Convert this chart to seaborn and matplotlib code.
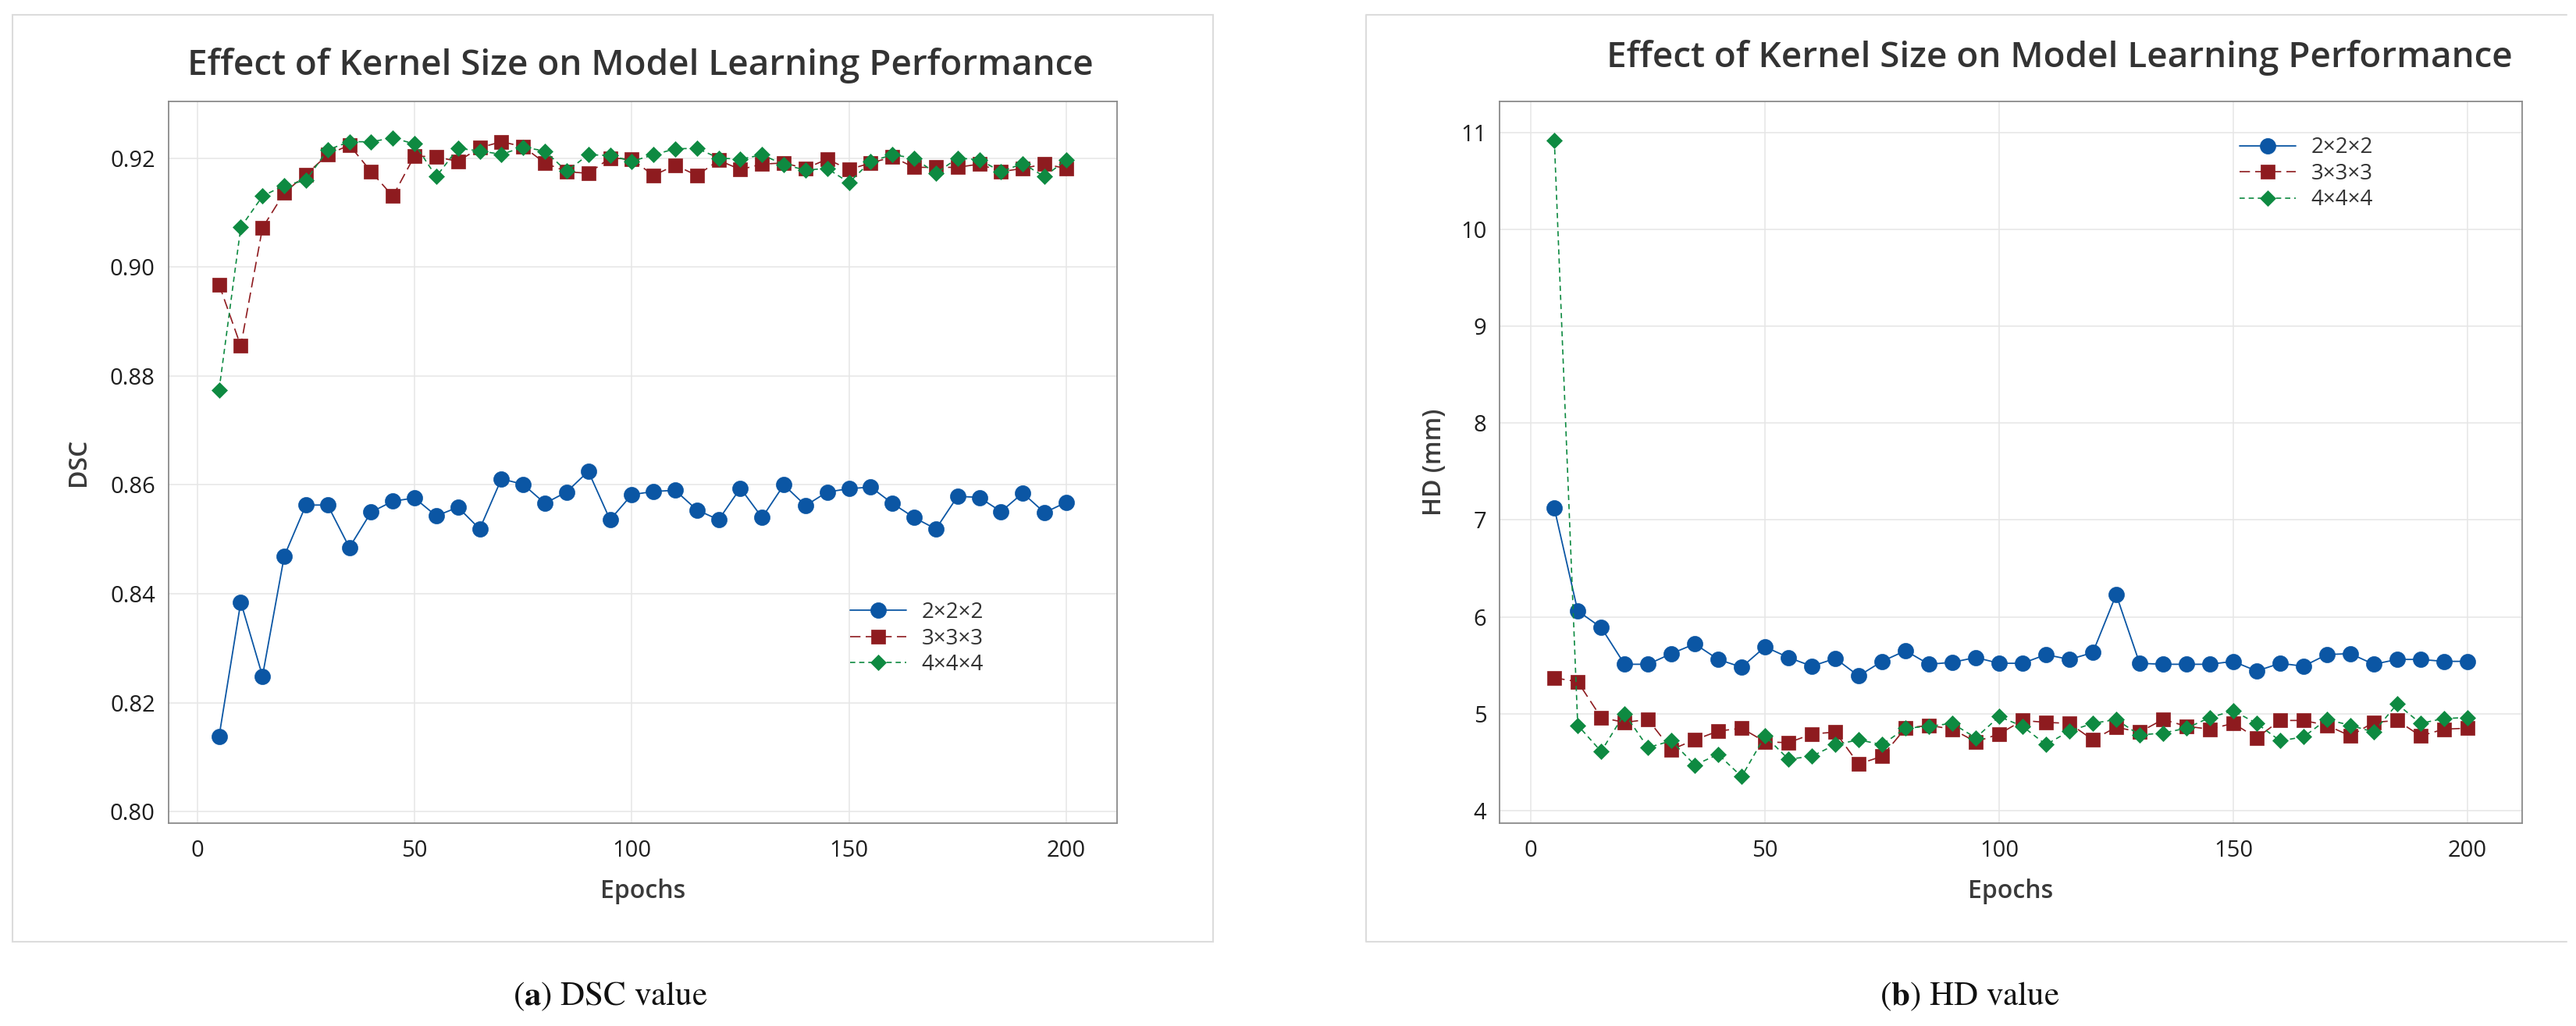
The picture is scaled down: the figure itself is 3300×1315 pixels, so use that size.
import matplotlib
matplotlib.use('Agg')
import matplotlib.pyplot as plt
import seaborn as sns
from matplotlib.patches import Rectangle
from matplotlib.lines import Line2D

# === DATA ===
epochs = [5, 10, 15, 20, 25, 30, 35, 40, 45, 50,
          55, 60, 65, 70, 75, 80, 85, 90, 95, 100,
          105, 110, 115, 120, 125, 130, 135, 140, 145, 150,
          155, 160, 165, 170, 175, 180, 185, 190, 195, 200]

kernel_labels = ['2×2×2', '3×3×3', '4×4×4']

dsc_k2 = [0.8138, 0.8385, 0.8249, 0.8469, 0.8563, 0.8563, 0.8485, 0.8550, 0.8570, 0.8576,
          0.8543, 0.8559, 0.8519, 0.8611, 0.8601, 0.8566, 0.8587, 0.8625, 0.8536, 0.8582,
          0.8588, 0.8590, 0.8554, 0.8536, 0.8594, 0.8540, 0.8600, 0.8562, 0.8587, 0.8593,
          0.8596, 0.8566, 0.8540, 0.8519, 0.8579, 0.8577, 0.8551, 0.8585, 0.8549, 0.8568]
dsc_k3 = [0.8968, 0.8855, 0.9072, 0.9136, 0.9170, 0.9206, 0.9224, 0.9175, 0.9130, 0.9204,
          0.9202, 0.9194, 0.9219, 0.9230, 0.9221, 0.9191, 0.9175, 0.9172, 0.9200, 0.9198,
          0.9168, 0.9187, 0.9168, 0.9196, 0.9179, 0.9189, 0.9191, 0.9181, 0.9198, 0.9179,
          0.9191, 0.9202, 0.9183, 0.9183, 0.9183, 0.9189, 0.9175, 0.9181, 0.9189, 0.9181]
dsc_k4 = [0.8774, 0.9073, 0.9130, 0.9150, 0.9159, 0.9215, 0.9230, 0.9230, 0.9237, 0.9226,
          0.9166, 0.9218, 0.9213, 0.9207, 0.9220, 0.9213, 0.9176, 0.9206, 0.9205, 0.9194,
          0.9206, 0.9217, 0.9218, 0.9200, 0.9198, 0.9206, 0.9188, 0.9178, 0.9181, 0.9155,
          0.9194, 0.9206, 0.9200, 0.9172, 0.9200, 0.9197, 0.9175, 0.9190, 0.9166, 0.9197]

hd_k2 = [7.12, 6.06, 5.89, 5.51, 5.51, 5.62, 5.72, 5.56, 5.48, 5.69,
         5.58, 5.49, 5.57, 5.39, 5.54, 5.65, 5.51, 5.53, 5.58, 5.52,
         5.52, 5.61, 5.56, 5.63, 6.23, 5.52, 5.51, 5.51, 5.51, 5.54,
         5.44, 5.52, 5.49, 5.61, 5.62, 5.51, 5.56, 5.56, 5.54, 5.54]
hd_k3 = [5.37, 5.33, 4.96, 4.91, 4.94, 4.63, 4.73, 4.82, 4.85, 4.71,
         4.70, 4.79, 4.81, 4.48, 4.56, 4.85, 4.88, 4.84, 4.71, 4.79,
         4.93, 4.91, 4.90, 4.73, 4.86, 4.81, 4.94, 4.87, 4.84, 4.90,
         4.75, 4.93, 4.93, 4.88, 4.77, 4.91, 4.93, 4.77, 4.84, 4.85]
hd_k4 = [10.92, 4.88, 4.61, 5.00, 4.65, 4.72, 4.47, 4.58, 4.35, 4.77,
         4.53, 4.56, 4.68, 4.73, 4.68, 4.85, 4.87, 4.90, 4.75, 4.97,
         4.87, 4.68, 4.82, 4.90, 4.94, 4.78, 4.80, 4.85, 4.96, 5.03,
         4.90, 4.72, 4.76, 4.94, 4.88, 4.81, 5.10, 4.90, 4.95, 4.96]

dsc_ticks = [0.80, 0.82, 0.84, 0.86, 0.88, 0.90, 0.92]
hd_ticks = [4, 5, 6, 7, 8, 9, 10, 11]
epoch_ticks = [0, 50, 100, 150, 200]

# === STYLE ===
sns.set_style('white')
plt.rcParams['font.family'] = ['Open Sans', 'DejaVu Sans']
plt.rcParams['mathtext.fontset'] = 'stix'

series_style = [
    dict(color='#0b56a4', marker='o', markersize=14.4, linestyle='-', linewidth=1.3),
    dict(color='#8e1b1f', marker='s', markersize=13.6, linestyle=(0, (8, 4)), linewidth=1.2),
    dict(color='#0e8a41', marker='D', markersize=10.5, linestyle=(0, (4, 3)), linewidth=1.2),
]

W, H = 3300, 1315
fig = plt.figure(figsize=(W / 100, H / 100), dpi=100)


def px_box(x0, x1, y0, y1):
    return [x0 / W, 1 - y1 / H, (x1 - x0) / W, (y1 - y0) / H]


# panel frames (the right one runs off the page on its right side)
frame_kw = dict(transform=fig.transFigure, color='#dcdcdc', lw=1.5)
fig.patches.append(Rectangle((16 / W, 1 - 1207 / H), (1554 - 16) / W, (1207 - 19) / H,
                             transform=fig.transFigure, fill=False, ec='#dcdcdc', lw=1.5))
fig.lines.append(Line2D([3288 / W, 1750 / W, 1750 / W, 3288 / W],
                        [1 - 19 / H, 1 - 19 / H, 1 - 1207 / H, 1 - 1207 / H], **frame_kw))

ax1 = fig.add_axes(px_box(215.5, 1431, 130, 1055))
ax2 = fig.add_axes(px_box(1921, 3231, 130, 1055))

panels = [
    (ax1, [dsc_k2, dsc_k3, dsc_k4], 'DSC', dsc_ticks, (0.7979, 0.9304), '{:.2f}',
     (0.7186, 0.307), -0.095, 820, 84),
    (ax2, [hd_k2, hd_k3, hd_k4], 'HD (mm)', hd_ticks, (3.87, 11.32), '{:g}',
     (0.7237, 0.951), -0.0634, 2638, 74),
]

for ax, values, ylab, yticks, ylim, fmt, leg_pos, ylab_x, title_x, title_y in panels:
    for vals, lab, st in zip(values, kernel_labels, series_style):
        sns.lineplot(x=epochs, y=vals, ax=ax, label=lab, errorbar=None,
                     color=st['color'], marker=st['marker'], markersize=st['markersize'],
                     linestyle=st['linestyle'], linewidth=st['linewidth'],
                     markeredgecolor=st['color'], markeredgewidth=0.5)
    ax.set_xlim(-6.7, 211.7)
    ax.set_ylim(*ylim)
    ax.set_xticks(epoch_ticks)
    ax.set_yticks(yticks)
    ax.set_yticklabels([fmt.format(t) for t in yticks])
    ax.grid(True, color='#e6e6e6', linewidth=1.1)
    ax.set_axisbelow(True)
    for sp in ax.spines.values():
        sp.set_color('#8a8a8a')
        sp.set_linewidth(1.3)
    ax.tick_params(axis='both', direction='out', length=7, width=1, color='#8a8a8a',
                   labelsize=21, labelcolor='#1e1e1e', pad=5)
    ax.tick_params(axis='x', pad=8)
    ax.set_xlabel('Epochs', fontsize=23, color='#3a3a3a', fontweight='semibold')
    ax.set_ylabel(ylab, fontsize=23, color='#3a3a3a', fontweight='semibold')
    ax.xaxis.set_label_coords(0.5, -0.095)
    ax.xaxis.label.set_va('center')
    ax.yaxis.set_label_coords(ylab_x, 0.5)
    ax.yaxis.label.set_va('center')
    leg = ax.legend(loc='upper left', bbox_to_anchor=leg_pos, frameon=False, fontsize=20,
                    handlelength=2.6, handletextpad=0.7, borderaxespad=0, borderpad=0,
                    labelspacing=0.2)
    for t in leg.get_texts():
        t.set_color('#333333')
    fig.text(title_x / W, 1 - title_y / H, 'Effect of Kernel Size on Model Learning Performance',
             ha='center', va='center', fontsize=33, color='#333333', fontweight='semibold')

# sub-captions
fig.text(782 / W, 1 - 1277 / H, r'($\mathbf{a}$) DSC value', ha='center', va='center',
         fontsize=31, family='STIXGeneral', color='#111111')
fig.text(2523 / W, 1 - 1277 / H, r'($\mathbf{b}$) HD value', ha='center', va='center',
         fontsize=31, family='STIXGeneral', color='#111111')

fig.savefig('out.png', dpi=100)
